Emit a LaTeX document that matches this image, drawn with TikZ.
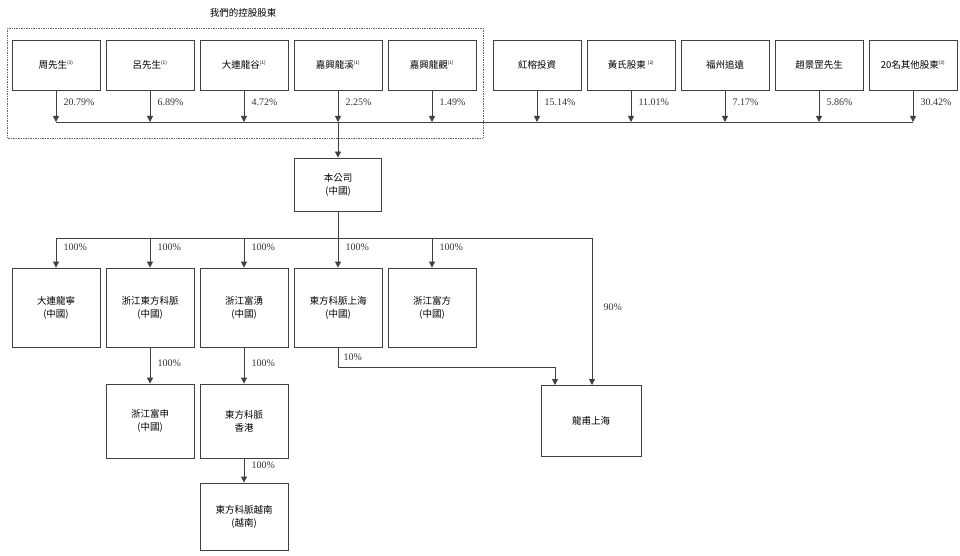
\documentclass[tikz,border=0pt]{standalone}
\usepackage{fontspec}
\setmainfont{Liberation Serif}
\newfontfamily\cjk{Noto Sans CJK TC}[Scale=0.95]
\usetikzlibrary{arrows.meta}
\begin{document}
\begin{tikzpicture}[x=1pt,y=-1pt,
  box/.style={draw=black!75,line width=0.8pt,minimum width=88pt,align=center,font=\cjk\fontsize{10}{13}\selectfont,inner sep=1pt},
  ln/.style={draw=black!75,line width=0.8pt},
  arr/.style={ln,-{Triangle[length=6pt,width=6pt]}},
  pct/.style={font=\fontsize{10}{12}\selectfont,anchor=west,text=black!80}]
\useasboundingbox (0,0) rectangle (960,556);
\newcommand{\sus}[1]{\textsuperscript{\fontsize{5}{5}\selectfont(#1)}}
\node[font=\cjk\fontsize{10}{12}\selectfont] (title) at (243,13) {我們的控股股東};
\draw[densely dotted,draw=black!60,line width=0.7pt] (7,28) rectangle (483,138);
% top shareholders
\foreach \n/\x/\t/\p in {a/56/周先生\sus{3}/20.79\%, b/150/呂先生\sus{1}/6.89\%, c/244/大連龍谷\sus{1}/4.72\%, d/338/嘉興龍溪\sus{1}/2.25\%, e/432/嘉興龍觀\sus{1}/1.49\%, f/537/紅榕投資/15.14\%, g/631/黃氏股東 \sus{2}/11.01\%, h/725/福州追遠/7.17\%, i/819/趙景罡先生/5.86\%, j/913/20名其他股東\sus{3}/30.42\%}{
  \node[box,minimum height=50pt] (\n) at (\x,65) {\t};
  \coordinate (\n l) at (\x,122);
  \draw[arr] (\n.south) -- (\n l);
  \node[pct] at (\x+4,102) {\p};
}
\draw[ln] (al) -- (jl);
\node[box,minimum width=87pt,minimum height=53pt] (co) at (338,184.5) {本公司\\(中國)};
\draw[arr] (dl) -- (co.north);
% subsidiaries
\coordinate (hl) at (56,238);
\coordinate (hr) at (592,238);
\draw[ln] (co.south) -- (338,238);
\draw[ln] (hl) -- (hr);
\foreach \n/\x/\t in {s1/56/大連龍寧, s2/150/浙江東方科脈, s3/244/浙江富湧, s4/338/東方科脈上海, s5/432/浙江富方}{
  \node[box,minimum height=79pt] (\n) at (\x,307.5) {\t\\(中國)};
  \coordinate (\n t) at (\x,238);
  \draw[arr] (\n t) -- (\n.north);
  \node[pct] at (\x+4,247) {100\%};
}
\node[box,minimum width=100pt,minimum height=71pt] (lf) at (591,420.5) {龍甫上海};
\draw[arr] (hr) -- (592,385);
\node[pct] at (600,307) {90\%};
\coordinate (k1) at (338,367);
\coordinate (k2) at (555,367);
\draw[ln] (s4.south) -- (k1) -- (k2);
\draw[arr] (k2) -- (555,385);
\node[pct] at (340,357) {10\%};
\node[box,minimum height=74pt] (fs) at (150,421) {浙江富申\\(中國)};
\draw[arr] (s2.south) -- (fs.north);
\node[pct] at (154,363) {100\%};
\node[box,minimum height=74pt] (hk) at (244,421) {東方科脈\\香港};
\draw[arr] (s3.south) -- (hk.north);
\node[pct] at (248,363) {100\%};
\node[box,minimum height=67pt] (vn) at (244,516.5) {東方科脈越南\\(越南)};
\draw[arr] (hk.south) -- (vn.north);
\node[pct] at (248,465) {100\%};
\end{tikzpicture}
\end{document}
